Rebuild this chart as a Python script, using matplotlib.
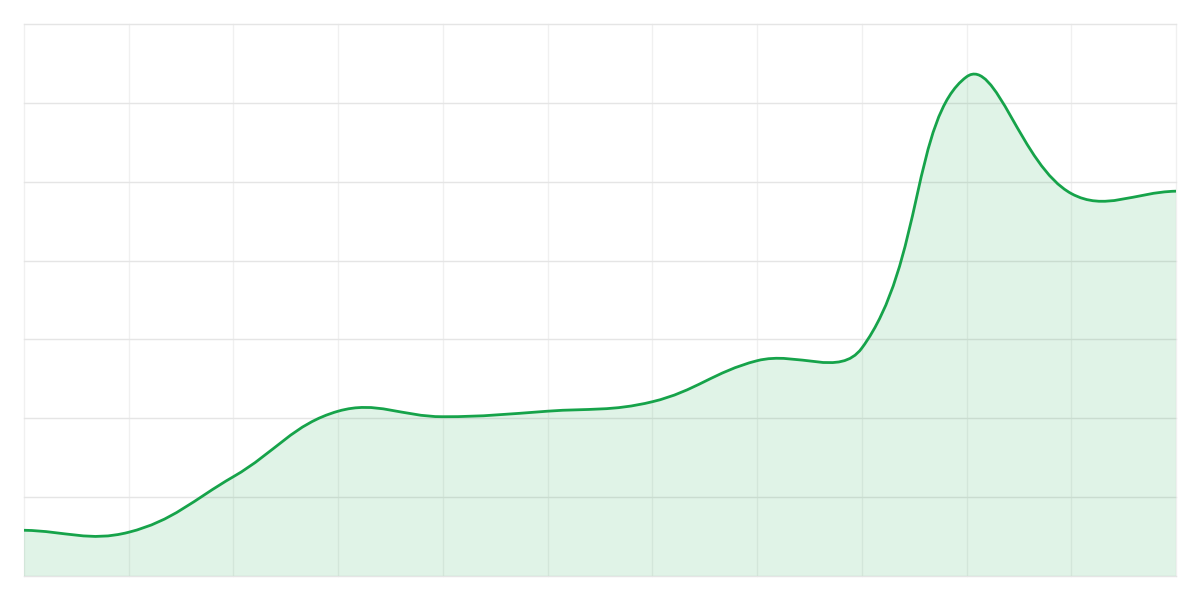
import numpy as np
import matplotlib
matplotlib.use('Agg')
from matplotlib import pyplot as plt
from matplotlib.path import Path
from matplotlib.patches import PathPatch

# values (y axis 0..70, 12 points)
xs = list(range(12))
vals = [5.8, 5.55, 12.6, 20.9, 20.2, 20.9, 22.1, 27.3, 28.9, 63.3, 48.5, 48.8]
ymax = 70
line_col = '#16a34a'

W, H = 1200, 600
left, right, top, bottom = 24, 1176, 24, 576


def to_px(x, v):
    return left + x*(right-left)/11.0, bottom - v/ymax*(bottom-top)


def to_data(px, py):
    return (px-left)*11.0/(right-left), (bottom-py)/(bottom-top)*ymax


# bezier control points like a tension 0.4 spline
pts = [to_px(x, v) for x, v in zip(xs, vals)]
t = 0.4
ctrl = []
for i in range(len(pts)):
    p0 = pts[i-1] if i > 0 else pts[i]
    p1 = pts[i]
    p2 = pts[i+1] if i < len(pts)-1 else pts[i]
    d01 = np.hypot(p1[0]-p0[0], p1[1]-p0[1])
    d12 = np.hypot(p2[0]-p1[0], p2[1]-p1[1])
    s01 = d01/(d01+d12) if d01+d12 else 0
    s12 = d12/(d01+d12) if d01+d12 else 0
    fa = t*s01
    fb = t*s12
    cp_prev = (p1[0]-fa*(p2[0]-p0[0]), p1[1]-fa*(p2[1]-p0[1]))
    cp_next = (p1[0]+fb*(p2[0]-p0[0]), p1[1]+fb*(p2[1]-p0[1]))
    cp_prev = (min(max(cp_prev[0], left), right), min(max(cp_prev[1], top), bottom))
    cp_next = (min(max(cp_next[0], left), right), min(max(cp_next[1], top), bottom))
    ctrl.append((cp_prev, cp_next))

verts = [to_data(*pts[0])]
codes = [Path.MOVETO]
for i in range(1, len(pts)):
    verts.append(to_data(*ctrl[i-1][1]))
    verts.append(to_data(*ctrl[i][0]))
    verts.append(to_data(*pts[i]))
    codes += [Path.CURVE4]*3

line_path = Path(verts, codes)
fill_verts = verts + [(xs[-1], 0), (xs[0], 0), verts[0]]
fill_codes = codes + [Path.LINETO, Path.LINETO, Path.CLOSEPOLY]
fill_path = Path(fill_verts, fill_codes)

fig = plt.figure(figsize=(12, 6), dpi=100)
ax = fig.add_axes([left/W, 1-bottom/H, (right-left)/W, (bottom-top)/H])
ax.set_xlim(0, 11)
ax.set_ylim(0, ymax)

for x in xs:
    ax.axvline(x, color='#f0f0f0', lw=1, zorder=0, clip_on=False)
for y in range(0, ymax+1, 10):
    ax.axhline(y, color='#e5e5e5', lw=1, zorder=0, clip_on=False)

ax.add_patch(PathPatch(fill_path, facecolor=line_col, alpha=0.13, edgecolor='none', zorder=1))
ax.add_patch(PathPatch(line_path, facecolor='none', edgecolor=line_col, lw=2.0, zorder=2,
                       capstyle='round', joinstyle='round'))

for s in ax.spines.values():
    s.set_visible(False)
ax.set_xticks([])
ax.set_yticks([])

fig.savefig('out.png', dpi=100)
